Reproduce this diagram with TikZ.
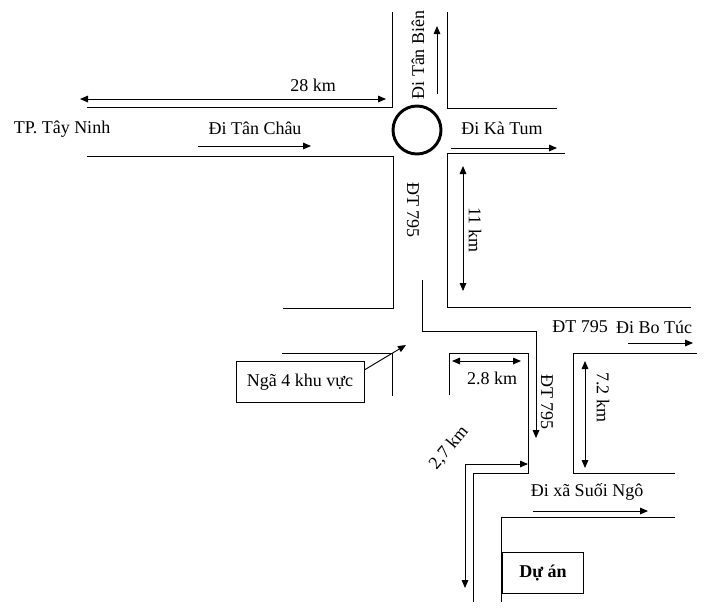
\documentclass[tikz,border=0pt]{standalone}
\usepackage{fontspec}
\setmainfont{Liberation Serif}
\usetikzlibrary{arrows.meta,positioning}
\begin{document}
\begin{tikzpicture}[x=0.75pt, y=-0.75pt, line width=0.7pt,
		road/.style={line width=0.7pt},
		way/.style={-{Triangle[length=6pt,width=5pt]}},
		dist/.style={{Triangle[length=6pt,width=5pt]}-{Triangle[length=6pt,width=5pt]}},
		lbl/.style={font=\fontsize{13.5}{15}\selectfont, inner sep=0pt},
		box/.style={draw, font=\fontsize{13.5}{15}\selectfont, inner sep=0pt}
		]
	\useasboundingbox (0,0) rectangle (707,608);
	% roads
	\draw [road] (87,107) -- (392,107) -- (392,12);
	\draw [road] (87,156) -- (393,156) -- (393,308) -- (283,308);
	\draw [road] (447,12) -- (447,108) -- (557,108);
	\draw [road] (565,153) -- (447,153) -- (447,307) -- (691,307);
	\draw [road] (697,353) -- (573,353) -- (573,473) -- (675,473);
	\draw [road] (449,395) -- (449,353) -- (528,353) -- (528,473) -- (473,473) -- (473,602);
	\draw [road] (282,353) -- (392,353) -- (392,396);
	\draw [road] (675,517) -- (501,517) -- (501,602);
	\node [circle, draw, line width=2.2pt, minimum size=36pt, inner sep=0pt] (vong) at (417,130) {};
	% labels
	\node [lbl] (tayninh) at (62,129) {TP. Tây Ninh};
	\node [lbl] (km28) at (313,85) {28 km};
	\node [lbl] (tanchau) at (255,128) {Đi Tân Châu};
	\node [lbl, rotate=90] (tanbien) at (418,55) {Đi Tân Biên};
	\node [lbl] (katum) at (502,128) {Đi Kà Tum};
	\node [lbl, rotate=-90] (dt1) at (413,210) {ĐT 795};
	\node [lbl, rotate=-90] (km11) at (475,230) {11 km};
	\node [lbl] (dt2) at (580,327) {ĐT 795};
	\node [lbl] (botuc) at (654,327) {Đi Bo Túc};
	\node [lbl] (km28b) at (492,378) {2.8 km};
	\node [lbl, rotate=-90] (dt3) at (547,402) {ĐT 795};
	\node [lbl, rotate=-90] (km72) at (603,397) {7.2 km};
	\node [lbl, rotate=50] (km27) at (449,448) {2,7 km};
	\node [lbl] (suoingo) at (587,492) {Đi xã Suối Ngô};
	\node [box, minimum width=96pt, minimum height=31pt] (ngabox) at (300,382) {Ngã 4 khu vực};
	\node [box, minimum width=61pt, minimum height=31pt, font=\fontsize{13.5}{15}\selectfont\bfseries] (duan) at (543,573) {Dự án};
	% arrows
	\draw [dist] (80,99) -- (386,99);
	\draw [way] (198,146) -- (311,146);
	\draw [way] (437,94) -- (437,26);
	\draw [way] (451,148) -- (557,148);
	\draw [dist] (463,166) -- (463,291);
	\draw [way] (422,280) -- (422,331) -- (536,331) -- (536,438);
	\draw [way] (628,343) -- (693,343);
	\draw [dist] (452,361) -- (521,361);
	\draw [dist] (585,361) -- (585,468);
	\draw [dist] (465,588) -- (465,464) -- (528,464);
	\draw [way] (533,511) -- (648,511);
	\coordinate (nga4) at (406,345);
	\draw [way] (ngabox.north east) ++(0,9) -- (nga4);
\end{tikzpicture}
\end{document}
